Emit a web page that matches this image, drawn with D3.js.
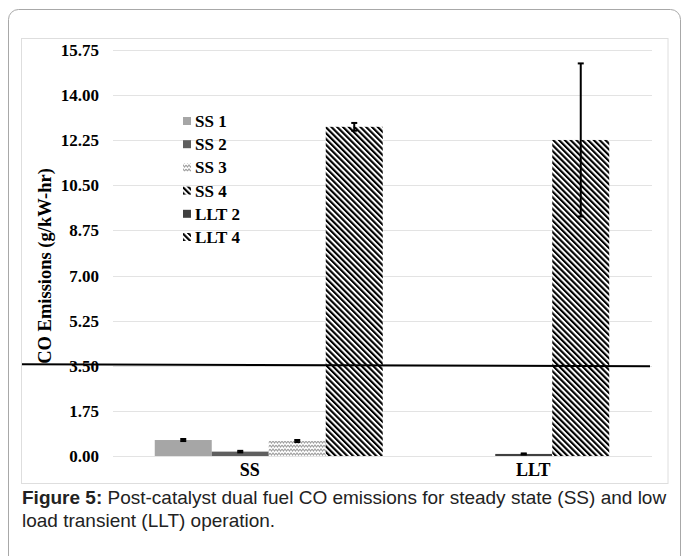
<!DOCTYPE html>
<html><head><meta charset="utf-8">
<script src="https://cdn.jsdelivr.net/npm/d3@7"></script>
<style>body{margin:0;background:#fff}</style>
</head><body><svg id="c" width="683" height="556"></svg>
<script>
const categories = ["SS", "LLT"];
const seriesNames = ["SS 1", "SS 2", "SS 3", "SS 4", "LLT 2", "LLT 4"];
const seriesCategory = ["SS", "SS", "SS", "SS", "LLT", "LLT"];
const seriesValues = [0.62, 0.17, 0.58, 12.77, 0.08, 12.26];
const seriesErrors = [0.04, 0.03, 0.04, 0.15, 0.02, 2.97];
const groupMembers = { SS: ["SS 1", "SS 2", "SS 3", "SS 4"], LLT: ["-", "LLT 2", "LLT 4", "+"] };
const yTicks = [0, 1.75, 3.5, 5.25, 7, 8.75, 10.5, 12.25, 14, 15.75];
const limitValue = 3.5;
const yTitle = "CO Emissions (g/kW-hr)";
const captionBold = "Figure 5:";
const captionLine1 = " Post-catalyst dual fuel CO emissions for steady state (SS) and low";
const captionLine2 = "load transient (LLT) operation.";

const svg = d3.select("#c");
const defs = svg.append("defs");
const serif = "'Liberation Serif','Times New Roman',serif";

// patterns
const diag = defs.append("pattern").attr("id", "diag").attr("patternUnits", "userSpaceOnUse")
  .attr("width", 4.1).attr("height", 4.1).attr("patternTransform", "rotate(-45)");
diag.append("rect").attr("width", 4.1).attr("height", 4.1).attr("fill", "#fff");
diag.append("rect").attr("width", 2.1).attr("height", 4.1).attr("fill", "#000");

const zig = defs.append("pattern").attr("id", "zig").attr("patternUnits", "userSpaceOnUse")
  .attr("width", 6).attr("height", 4);
zig.append("rect").attr("width", 6).attr("height", 4).attr("fill", "#fff");
zig.append("path").attr("d", "M0,1 L1.5,3 L3,1 L4.5,3 L6,1").attr("fill", "none")
  .attr("stroke", "#a0a0a0").attr("stroke-width", 1.1);

const fills = {
  "SS 1": "#a6a6a6", "SS 2": "#5f5f5f", "SS 3": "url(#zig)",
  "SS 4": "url(#diag)", "LLT 2": "#404040", "LLT 4": "url(#diag)"
};

// frames
svg.append("rect").attr("x", 8.5).attr("y", 9.5).attr("width", 672).attr("height", 580)
  .attr("rx", 10).attr("fill", "none").attr("stroke", "#a8a8a8").attr("stroke-width", 1);
svg.append("rect").attr("x", 21.5).attr("y", 38.5).attr("width", 646.5).attr("height", 445)
  .attr("fill", "#fff").attr("stroke", "#dedede").attr("stroke-width", 1);

// scales
const plotL = 113, plotR = 652;
const y = d3.scaleLinear().domain([0, 15.75]).range([456, 50]);
const x0 = d3.scaleBand().domain(categories).range([127, 694]);
const x1 = d3.scaleBand().domain(d3.range(4)).range([0, 228]);
const groupOffset = (x0.bandwidth() - 228) / 2;

// gridlines
svg.append("g").selectAll("line").data(yTicks).join("line")
  .attr("x1", plotL).attr("x2", plotR)
  .attr("y1", d => Math.round(y(d)) + 0.5).attr("y2", d => Math.round(y(d)) + 0.5)
  .attr("stroke", "#e3e3e3").attr("stroke-width", 1);

// y tick labels
svg.append("g").selectAll("text").data(yTicks).join("text")
  .attr("x", 99).attr("y", d => y(d)).attr("dy", "0.35em")
  .attr("text-anchor", "end").attr("font-family", serif).attr("font-weight", "bold")
  .attr("font-size", 17).attr("fill", "#000").text(d => d3.format(".2f")(d));

// y title
svg.append("text").attr("transform", `translate(45,266) rotate(-90)`)
  .attr("text-anchor", "middle").attr("dy", "0.35em").attr("font-family", serif)
  .attr("font-weight", "bold").attr("font-size", 18.5).text(yTitle);

// bars
const data = seriesNames.map((n, i) => ({
  name: n, cat: seriesCategory[i], v: seriesValues[i], e: seriesErrors[i]
}));
const bx = d => x0(d.cat) + groupOffset + x1(groupMembers[d.cat].indexOf(d.name));
svg.append("g").selectAll("rect").data(data).join("rect")
  .attr("x", bx).attr("width", x1.bandwidth())
  .attr("y", d => y(d.v)).attr("height", d => y(0) - y(d.v))
  .attr("fill", d => fills[d.name]);

// error bars
const eg = svg.append("g").attr("stroke", "#000").attr("stroke-width", 2);
data.forEach(d => {
  const cx = bx(d) + x1.bandwidth() / 2;
  eg.append("line").attr("x1", cx).attr("x2", cx).attr("y1", y(d.v + d.e)).attr("y2", y(d.v - d.e));
  eg.append("line").attr("x1", cx - 3).attr("x2", cx + 3).attr("y1", y(d.v + d.e)).attr("y2", y(d.v + d.e));
  eg.append("line").attr("x1", cx - 3).attr("x2", cx + 3).attr("y1", y(d.v - d.e)).attr("y2", y(d.v - d.e));
});

// category labels
svg.append("g").selectAll("text").data(categories).join("text")
  .attr("x", d => x0(d) + x0.bandwidth() / 2 - 19).attr("y", 476)
  .attr("text-anchor", "middle").attr("font-family", serif).attr("font-weight", "bold")
  .attr("font-size", 18).text(d => d);

// limit line
svg.append("line").attr("x1", 22).attr("x2", 650)
  .attr("y1", y(limitValue) - 1.5).attr("y2", y(limitValue) + 0.5)
  .attr("stroke", "#000").attr("stroke-width", 2);

// legend
const lg = svg.append("g");
seriesNames.forEach((n, i) => {
  const ly = 121 + i * 23.2;
  lg.append("rect").attr("x", 183).attr("y", ly - 4).attr("width", 8).attr("height", 8)
    .attr("fill", fills[n]);
  lg.append("text").attr("x", 195).attr("y", ly).attr("dy", "0.35em")
    .attr("font-family", serif).attr("font-weight", "bold").attr("font-size", 17).text(n);
});

// caption
const capFont = "'Liberation Sans',Arial,sans-serif";
const cap = svg.append("text").attr("x", 22).attr("y", 504)
  .attr("font-family", capFont).attr("font-size", 19).attr("fill", "#222");
cap.append("tspan").attr("font-weight", "bold").text(captionBold);
cap.append("tspan").text(captionLine1);
svg.append("text").attr("x", 22).attr("y", 527)
  .attr("font-family", capFont).attr("font-size", 19).attr("fill", "#222")
  .text(captionLine2);
</script></body></html>
